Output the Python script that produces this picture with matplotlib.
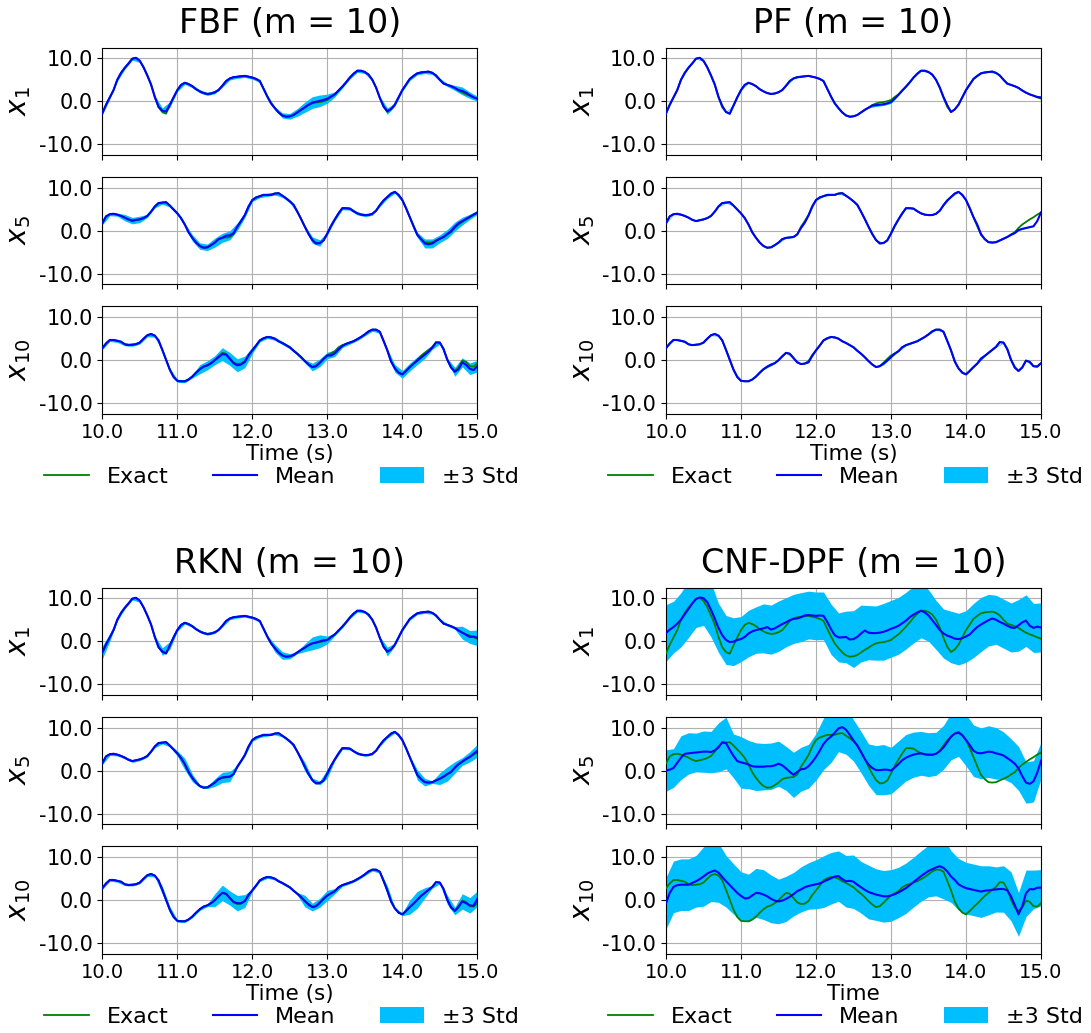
import numpy as np
import matplotlib
matplotlib.use("Agg")
import matplotlib.pyplot as plt
from matplotlib.ticker import FormatStrFormatter

# ---------------- data ----------------
time = np.linspace(10.0, 15.0, 101)      # 0.05 s grid for lines
time_std = time[::2]                     # 0.1 s grid for std bands

x1_exact = [-2.8, -0.8, 0.9, 2.6, 5.0, 6.6, 7.8, 8.8, 9.9, 10.1,
            9.4, 7.9, 6.0, 3.9, 1.0, -1.4, -2.5, -2.9, -1.0, 0.9,
            2.6, 3.8, 4.3, 4.0, 3.5, 2.8, 2.3, 1.9, 1.7, 1.8,
            2.1, 2.6, 3.6, 4.7, 5.3, 5.6, 5.7, 5.8, 5.9, 5.7,
            5.5, 5.2, 4.7, 2.9, 1.1, -0.5, -1.6, -2.6, -3.3, -3.6,
            -3.5, -3.2, -2.6, -2.0, -1.5, -0.9, -0.5, -0.3, -0.2, 0.0,
            0.3, 1.0, 1.6, 2.5, 3.4, 4.4, 5.5, 6.4, 7.1, 7.1,
            6.8, 6.2, 5.0, 3.2, 0.8, -1.3, -2.5, -1.9, -0.8, 0.9,
            2.6, 3.9, 5.2, 5.9, 6.5, 6.7, 6.8, 6.9, 6.6, 6.0,
            5.0, 4.1, 3.8, 3.5, 3.1, 2.5, 2.0, 1.6, 1.3, 0.9,
            0.6]
x5_exact = [1.7, 3.3, 3.8, 3.9, 3.7, 3.4, 3.0, 2.5, 2.2, 2.4,
            2.6, 2.9, 3.4, 4.4, 5.6, 6.4, 6.5, 6.6, 5.8, 4.9,
            4.0, 2.9, 1.4, -0.4, -1.7, -2.8, -3.6, -4.0, -3.9, -3.4,
            -2.8, -2.0, -1.7, -1.6, -1.5, -0.9, 0.9, 2.2, 3.6, 5.6,
            7.1, 7.7, 8.0, 8.3, 8.3, 8.3, 8.6, 8.7, 8.1, 7.5,
            6.8, 6.0, 4.4, 2.7, 0.9, -0.8, -2.2, -3.0, -2.9, -2.3,
            -0.7, 1.1, 2.6, 4.0, 5.2, 5.2, 5.1, 4.5, 4.0, 3.7,
            3.6, 3.6, 3.9, 4.6, 5.9, 7.0, 7.8, 8.6, 9.0, 8.3,
            7.1, 5.2, 3.1, 1.0, -1.0, -2.0, -2.7, -2.8, -2.7, -2.3,
            -1.9, -1.5, -0.9, -0.4, 0.6, 1.4, 2.0, 2.6, 3.1, 3.7,
            4.2]
x10_exact = [2.7, 3.8, 4.6, 4.6, 4.4, 4.2, 3.6, 3.4, 3.5, 3.6,
             4.0, 4.9, 5.7, 6.0, 5.6, 4.5, 2.3, 0.0, -2.3, -4.0,
             -4.9, -5.0, -5.0, -4.6, -3.9, -3.0, -2.2, -1.6, -1.3, -0.8,
             -0.1, 0.8, 1.6, 1.4, 0.4, -0.6, -1.0, -0.9, -0.3, 1.1,
             2.2, 3.3, 4.5, 5.0, 5.3, 5.2, 4.9, 4.3, 3.9, 3.4,
             2.9, 2.1, 1.4, 0.6, -0.3, -1.1, -1.7, -1.5, -0.7, 0.2,
             1.0, 1.5, 2.0, 2.9, 3.4, 3.7, 4.0, 4.3, 4.8, 5.3,
             5.9, 6.6, 7.0, 7.0, 6.5, 4.4, 2.2, -0.4, -2.0, -3.0,
             -3.4, -2.6, -1.7, -0.9, 0.0, 0.9, 1.6, 2.3, 3.0, 4.1,
             4.0, 2.5, 0.0, -1.8, -2.6, -1.8, -0.2, -0.5, -1.5, -1.6,
             -0.8]

# FBF
fbf_x1_mean = [-2.8, -0.8, 0.9, 2.6, 5.0, 6.6, 7.8, 8.8, 9.9, 10.1,
               9.4, 7.9, 6.0, 3.9, 1.0, -1.3, -2.2, -2.4, -0.8, 0.9,
               2.6, 3.8, 4.3, 4.0, 3.5, 2.8, 2.3, 1.9, 1.7, 1.8,
               2.1, 2.6, 3.6, 4.7, 5.3, 5.6, 5.7, 5.8, 5.9, 5.7,
               5.5, 5.2, 4.7, 2.9, 1.1, -0.5, -1.6, -2.6, -3.3, -3.6,
               -3.5, -3.2, -2.6, -2.0, -1.4, -0.8, -0.3, -0.1, 0.1, 0.3,
               0.6, 1.1, 1.6, 2.5, 3.4, 4.4, 5.5, 6.4, 7.1, 7.1,
               6.8, 6.2, 5.0, 3.2, 0.8, -1.2, -2.3, -1.8, -0.8, 0.9,
               2.6, 3.9, 5.2, 5.9, 6.5, 6.7, 6.8, 6.9, 6.6, 6.0,
               5.0, 4.1, 3.8, 3.5, 3.1, 2.6, 2.4, 2.0, 1.4, 0.9,
               0.6]
fbf_x5_mean = [1.7, 3.3, 3.8, 3.9, 3.7, 3.4, 3.0, 2.6, 2.3, 2.5,
               2.6, 2.9, 3.4, 4.4, 5.6, 6.4, 6.5, 6.6, 5.8, 4.9,
               4.0, 2.9, 1.4, -0.4, -1.7, -2.8, -3.6, -4.0, -3.9, -3.4,
               -2.8, -2.0, -1.7, -1.2, -1.1, -0.6, 0.9, 2.2, 3.6, 5.6,
               7.1, 7.7, 8.0, 8.3, 8.3, 8.3, 8.6, 8.7, 8.1, 7.5,
               6.8, 6.0, 4.4, 2.7, 0.9, -0.8, -2.2, -3.0, -2.9, -2.3,
               -0.7, 1.1, 2.6, 4.0, 5.2, 5.2, 5.1, 4.5, 4.0, 3.7,
               3.6, 3.6, 3.9, 4.6, 5.9, 7.0, 7.8, 8.6, 9.0, 8.3,
               7.1, 5.2, 3.1, 1.0, -1.0, -2.0, -3.0, -3.2, -3.0, -2.4,
               -1.9, -1.5, -0.8, -0.1, 0.9, 1.7, 2.2, 2.7, 3.2, 3.7,
               4.2]
fbf_x10_mean = [2.7, 3.8, 4.6, 4.6, 4.4, 4.2, 3.6, 3.4, 3.5, 3.6,
                4.0, 4.9, 5.7, 6.0, 5.6, 4.5, 2.3, 0.0, -2.3, -4.0,
                -4.9, -5.0, -5.0, -4.6, -3.9, -3.0, -2.2, -1.6, -1.3, -0.8,
                -0.1, 0.6, 1.3, 1.2, 0.2, -0.8, -1.3, -1.1, -0.5, 1.0,
                2.2, 3.3, 4.5, 5.0, 5.3, 5.2, 4.9, 4.3, 3.9, 3.4,
                2.9, 2.1, 1.4, 0.6, -0.3, -1.1, -1.7, -1.5, -0.7, 0.2,
                1.0, 1.0, 1.5, 2.4, 3.2, 3.7, 4.0, 4.3, 4.8, 5.3,
                5.9, 6.6, 7.0, 7.0, 6.5, 4.4, 2.2, -0.4, -2.0, -3.0,
                -3.4, -2.6, -1.7, -0.9, -0.2, 0.5, 1.2, 1.9, 2.8, 4.0,
                4.0, 2.5, 0.0, -1.8, -2.8, -2.2, -0.6, -1.2, -2.1, -2.4,
                -1.5]
fbf_x1_std = [0.12, 0.12, 0.12, 0.12, 0.12, 0.12, 0.12, 0.12, 0.22, 0.22,
              0.12, 0.12, 0.12, 0.12, 0.12, 0.12, 0.12, 0.12, 0.12, 0.12,
              0.12, 0.12, 0.12, 0.12, 0.2, 0.22, 0.3, 0.4, 0.45, 0.45,
              0.35, 0.2, 0.12, 0.12, 0.12, 0.12, 0.12, 0.12, 0.25, 0.12,
              0.12, 0.12, 0.12, 0.12, 0.12, 0.12, 0.12, 0.2, 0.3, 0.25,
              0.2]
fbf_x5_std = [0.12, 0.12, 0.12, 0.25, 0.25, 0.25, 0.12, 0.12, 0.12, 0.12,
              0.12, 0.12, 0.25, 0.25, 0.25, 0.35, 0.35, 0.35, 0.3, 0.2,
              0.12, 0.12, 0.12, 0.12, 0.12, 0.12, 0.12, 0.12, 0.25, 0.25,
              0.12, 0.12, 0.12, 0.12, 0.12, 0.12, 0.12, 0.12, 0.12, 0.12,
              0.12, 0.12, 0.2, 0.35, 0.35, 0.3, 0.35, 0.35, 0.3, 0.2,
              0.15]
fbf_x10_std = [0.12, 0.12, 0.12, 0.12, 0.12, 0.12, 0.12, 0.12, 0.12, 0.12,
               0.12, 0.12, 0.12, 0.35, 0.35, 0.35, 0.5, 0.5, 0.5, 0.45,
               0.25, 0.12, 0.12, 0.12, 0.12, 0.12, 0.12, 0.12, 0.3, 0.3,
               0.25, 0.25, 0.12, 0.12, 0.12, 0.12, 0.12, 0.12, 0.12, 0.3,
               0.3, 0.3, 0.3, 0.3, 0.12, 0.12, 0.12, 0.35, 0.35, 0.45,
               0.45]

# PF
pf_x1_mean = [-2.8, -0.8, 0.9, 2.6, 5.0, 6.6, 7.8, 8.8, 9.9, 10.1,
              9.4, 7.9, 6.0, 3.9, 1.0, -1.1, -2.5, -2.9, -1.0, 0.9,
              2.6, 3.8, 4.3, 4.0, 3.5, 2.8, 2.3, 1.9, 1.7, 1.8,
              2.1, 2.6, 3.6, 4.7, 5.3, 5.6, 5.7, 5.8, 5.9, 5.7,
              5.5, 5.2, 4.7, 2.9, 1.1, -0.5, -1.6, -2.6, -3.3, -3.6,
              -3.5, -3.2, -2.6, -2.0, -1.5, -1.0, -0.9, -0.8, -0.7, -0.5,
              -0.2, 0.6, 1.5, 2.5, 3.4, 4.4, 5.5, 6.4, 7.1, 7.1,
              6.8, 6.2, 5.0, 3.2, 1.0, -0.9, -2.5, -1.9, -0.8, 0.9,
              2.6, 3.9, 5.2, 5.9, 6.5, 6.7, 6.8, 6.9, 6.6, 6.0,
              5.0, 4.1, 3.8, 3.5, 3.1, 2.5, 2.0, 1.6, 1.3, 1.0,
              0.9]
pf_x5_mean = [1.7, 3.3, 3.8, 3.9, 3.7, 3.4, 3.0, 2.5, 2.2, 2.4,
              2.6, 2.9, 3.4, 4.4, 5.6, 6.4, 6.5, 6.6, 5.8, 4.9,
              4.0, 2.9, 1.4, -0.4, -1.7, -2.8, -3.6, -4.0, -3.9, -3.4,
              -2.8, -2.0, -1.7, -1.6, -1.5, -0.9, 0.6, 1.8, 3.5, 5.6,
              7.1, 7.7, 8.0, 8.3, 8.3, 8.3, 8.6, 8.7, 8.1, 7.5,
              6.8, 6.0, 4.4, 2.7, 0.9, -0.8, -2.2, -3.0, -2.9, -2.3,
              -0.7, 1.1, 2.6, 4.0, 5.2, 5.2, 5.1, 4.5, 4.0, 3.7,
              3.6, 3.6, 3.9, 4.6, 5.9, 7.0, 7.8, 8.6, 9.0, 8.3,
              7.1, 5.2, 3.1, 1.4, -0.8, -2.0, -2.7, -2.8, -2.7, -2.3,
              -1.9, -1.5, -1.0, -0.6, 0.1, 0.4, 0.6, 0.8, 1.0, 2.2,
              4.2]
pf_x10_mean = [2.7, 3.8, 4.6, 4.6, 4.4, 4.2, 3.6, 3.4, 3.5, 3.6,
               4.0, 4.9, 5.7, 6.0, 5.6, 4.5, 2.3, 0.0, -2.3, -4.0,
               -4.9, -5.0, -5.0, -4.6, -3.9, -3.0, -2.2, -1.6, -1.1, -0.8,
               -0.1, 0.8, 1.6, 1.4, 0.4, -0.6, -1.0, -0.9, -0.6, 0.9,
               2.2, 3.3, 4.5, 5.0, 5.3, 5.2, 4.9, 4.3, 3.9, 3.4,
               2.9, 2.1, 1.4, 0.6, -0.3, -1.1, -1.7, -1.5, -0.9, -0.2,
               0.6, 1.4, 2.0, 2.9, 3.4, 3.7, 4.0, 4.3, 4.8, 5.3,
               5.9, 6.6, 7.0, 7.0, 6.5, 4.4, 2.2, -0.4, -2.0, -3.0,
               -3.4, -2.6, -1.7, -0.9, 0.3, 0.9, 1.6, 2.3, 3.0, 4.1,
               4.0, 2.5, 0.0, -1.8, -2.6, -1.8, -0.2, -0.5, -1.5, -1.6,
               -0.8]
pf_x1_std = [0.03, 0.03, 0.03, 0.03, 0.03, 0.03, 0.03, 0.03, 0.03, 0.03,
             0.03, 0.03, 0.03, 0.03, 0.03, 0.03, 0.03, 0.03, 0.03, 0.03,
             0.03, 0.03, 0.03, 0.03, 0.03, 0.03, 0.03, 0.03, 0.1, 0.1,
             0.1, 0.03, 0.03, 0.03, 0.03, 0.03, 0.03, 0.03, 0.03, 0.03,
             0.03, 0.03, 0.03, 0.03, 0.03, 0.03, 0.03, 0.03, 0.03, 0.03,
             0.03]
pf_x5_std = [0.03, 0.03, 0.03, 0.03, 0.03, 0.03, 0.03, 0.03, 0.03, 0.03,
             0.03, 0.03, 0.03, 0.03, 0.03, 0.03, 0.03, 0.03, 0.03, 0.03,
             0.03, 0.03, 0.03, 0.03, 0.03, 0.03, 0.03, 0.03, 0.03, 0.03,
             0.03, 0.03, 0.03, 0.03, 0.03, 0.03, 0.03, 0.03, 0.03, 0.03,
             0.03, 0.03, 0.03, 0.03, 0.03, 0.03, 0.03, 0.03, 0.03, 0.03,
             0.03]
pf_x10_std = [0.03, 0.03, 0.03, 0.03, 0.03, 0.03, 0.03, 0.03, 0.03, 0.03,
              0.03, 0.03, 0.03, 0.03, 0.1, 0.03, 0.03, 0.03, 0.03, 0.03,
              0.03, 0.03, 0.03, 0.03, 0.03, 0.03, 0.03, 0.03, 0.03, 0.1,
              0.03, 0.03, 0.03, 0.03, 0.03, 0.03, 0.03, 0.03, 0.03, 0.03,
              0.03, 0.03, 0.1, 0.03, 0.03, 0.03, 0.03, 0.03, 0.03, 0.03,
              0.03]

# RKN
rkn_x1_mean = [-2.6, -0.7, 0.9, 2.6, 5.0, 6.6, 7.8, 8.8, 9.9, 10.1,
               9.4, 7.9, 6.0, 3.9, 1.0, -1.4, -2.4, -2.8, -1.0, 0.9,
               2.6, 3.8, 4.3, 4.0, 3.5, 2.8, 2.3, 1.9, 1.7, 1.8,
               2.1, 2.6, 3.6, 4.7, 5.3, 5.6, 5.7, 5.8, 5.9, 5.7,
               5.5, 5.2, 4.7, 2.9, 1.1, -0.5, -1.6, -2.6, -3.3, -3.6,
               -3.5, -3.2, -2.6, -2.0, -1.5, -0.9, -0.5, -0.3, 0.0, 0.2,
               0.3, 1.0, 1.6, 2.5, 3.4, 4.4, 5.5, 6.4, 7.1, 7.1,
               6.8, 6.2, 5.0, 3.2, 0.8, -1.3, -2.4, -1.9, -0.8, 0.9,
               2.6, 3.9, 5.2, 5.9, 6.5, 6.7, 6.8, 6.9, 6.6, 6.0,
               5.0, 4.1, 3.8, 3.5, 3.1, 2.5, 2.0, 1.5, 1.0, 1.1,
               0.8]
rkn_x5_mean = [1.7, 3.3, 3.8, 3.9, 3.7, 3.4, 3.0, 2.5, 2.2, 2.4,
               2.6, 2.9, 3.4, 4.4, 5.6, 6.4, 6.5, 6.6, 5.8, 4.9,
               4.0, 2.9, 1.5, -0.3, -1.7, -2.8, -3.6, -4.0, -3.9, -3.4,
               -2.8, -2.0, -1.6, -1.5, -1.4, -0.8, 0.9, 2.2, 3.6, 5.6,
               7.1, 7.7, 8.0, 8.3, 8.3, 8.3, 8.6, 8.7, 8.1, 7.5,
               6.8, 6.0, 4.4, 2.7, 0.9, -0.8, -2.2, -3.0, -2.9, -2.3,
               -0.7, 1.1, 2.6, 4.0, 5.2, 5.2, 5.1, 4.5, 4.0, 3.7,
               3.6, 3.6, 3.9, 4.6, 5.9, 7.0, 7.8, 8.6, 9.0, 8.3,
               7.1, 5.2, 3.1, 1.0, -1.0, -2.0, -2.7, -2.8, -2.7, -2.3,
               -1.9, -1.4, -0.8, -0.3, 0.7, 1.5, 2.1, 2.7, 3.2, 3.9,
               4.6]
rkn_x10_mean = [2.7, 3.8, 4.6, 4.6, 4.4, 4.2, 3.6, 3.4, 3.5, 3.6,
                4.0, 4.9, 5.7, 6.0, 5.6, 4.5, 2.3, 0.0, -2.3, -4.0,
                -4.9, -5.0, -5.0, -4.6, -3.9, -3.0, -2.2, -1.6, -1.3, -0.8,
                -0.1, 0.8, 1.6, 1.4, 0.4, -0.5, -0.8, -0.8, -0.3, 1.1,
                2.2, 3.3, 4.5, 5.0, 5.3, 5.2, 4.9, 4.3, 3.9, 3.4,
                2.9, 2.1, 1.4, 0.6, -0.3, -1.1, -1.7, -1.5, -0.7, 0.2,
                1.0, 1.5, 2.0, 2.9, 3.4, 3.7, 4.0, 4.3, 4.8, 5.3,
                5.9, 6.6, 7.0, 7.0, 6.5, 4.4, 2.2, -0.4, -2.0, -3.0,
                -3.4, -2.6, -1.7, -0.9, 0.0, 0.9, 1.6, 2.3, 3.0, 4.1,
                4.0, 2.5, 0.0, -1.8, -2.6, -1.6, -0.4, -0.8, -1.3, -1.4,
                0.2]
rkn_x1_std = [0.5, 0.3, 0.1, 0.1, 0.1, 0.1, 0.1, 0.1, 0.3, 0.3,
              0.1, 0.1, 0.1, 0.1, 0.1, 0.1, 0.1, 0.1, 0.1, 0.1,
              0.1, 0.1, 0.1, 0.3, 0.3, 0.2, 0.1, 0.3, 0.5, 0.5,
              0.3, 0.1, 0.1, 0.1, 0.1, 0.1, 0.1, 0.1, 0.35, 0.1,
              0.1, 0.1, 0.1, 0.1, 0.1, 0.1, 0.1, 0.1, 0.5, 0.5,
              0.6]
rkn_x5_std = [0.1, 0.1, 0.1, 0.1, 0.1, 0.1, 0.1, 0.1, 0.1, 0.1,
              0.2, 0.45, 0.3, 0.1, 0.1, 0.3, 0.4, 0.4, 0.1, 0.1,
              0.1, 0.1, 0.1, 0.1, 0.1, 0.1, 0.1, 0.35, 0.15, 0.15,
              0.35, 0.1, 0.1, 0.1, 0.1, 0.1, 0.1, 0.1, 0.1, 0.1,
              0.1, 0.1, 0.4, 0.3, 0.1, 0.45, 0.55, 0.45, 0.3, 0.4,
              0.5]
rkn_x10_std = [0.1, 0.1, 0.1, 0.1, 0.1, 0.1, 0.1, 0.1, 0.3, 0.25,
               0.1, 0.1, 0.1, 0.1, 0.1, 0.5, 0.6, 0.55, 0.6, 0.5,
               0.1, 0.1, 0.1, 0.1, 0.1, 0.1, 0.1, 0.45, 0.3, 0.35,
               0.4, 0.2, 0.1, 0.1, 0.1, 0.1, 0.1, 0.1, 0.35, 0.1,
               0.1, 0.55, 0.65, 0.4, 0.1, 0.1, 0.35, 0.3, 0.6, 0.6,
               0.6]

# CNF-DPF
cnf_x1_mean = [1.9, 2.7, 3.3, 4.1, 5.0, 6.3, 7.5, 8.8, 9.8, 10.2,
               10.0, 9.1, 7.3, 5.3, 3.1, 1.4, 0.3, -0.2, -0.1, 0.3,
               0.5, 1.0, 1.8, 2.3, 2.6, 2.8, 3.0, 3.3, 2.7, 3.0,
               3.5, 4.0, 4.4, 4.9, 5.2, 5.3, 5.6, 6.0, 6.1, 6.0,
               5.9, 6.0, 5.9, 4.5, 2.8, 1.4, 0.9, 0.9, 1.0, 0.4,
               0.5, 1.0, 1.8, 2.5, 2.0, 1.9, 1.9, 2.0, 2.2, 2.5,
               2.9, 3.2, 3.6, 4.2, 4.8, 5.6, 6.2, 6.7, 7.1, 6.7,
               6.0, 4.9, 3.8, 2.6, 1.8, 1.3, 1.0, 0.6, 0.5, 0.7,
               1.1, 1.6, 2.5, 3.3, 3.9, 4.4, 4.9, 5.3, 5.0, 4.5,
               4.1, 3.6, 3.2, 3.1, 3.7, 4.4, 4.8, 3.6, 3.1, 3.4,
               3.2]
cnf_x5_mean = [0.0, 0.2, 0.6, 1.8, 3.0, 3.9, 4.0, 4.1, 4.2, 4.3,
               4.4, 4.4, 4.3, 4.7, 5.4, 6.6, 6.4, 4.8, 3.4, 2.2,
               1.9, 1.7, 1.4, 1.0, 0.9, 0.9, 0.9, 1.0, 1.0, 1.2,
               1.6, 1.2, 0.5, -0.3, -1.0, -0.3, 0.3, 0.4, 1.0, 2.0,
               3.2, 4.6, 6.2, 7.2, 7.9, 8.8, 9.8, 10.1, 9.5, 8.3,
               7.0, 5.8, 4.3, 2.7, 1.4, 0.6, 0.1, 0.1, 0.2, 0.2,
               0.0, 0.7, 1.5, 2.4, 3.0, 3.4, 3.7, 3.9, 4.0, 3.8,
               3.7, 3.7, 3.9, 4.5, 5.4, 6.6, 7.9, 8.6, 8.8, 8.2,
               7.1, 5.9, 4.6, 4.1, 4.0, 4.2, 4.4, 4.3, 4.0, 3.8,
               3.5, 2.9, 2.3, 1.6, 0.5, -1.3, -2.8, -3.1, -2.5, -0.5,
               2.3]
cnf_x10_mean = [-0.8, 1.6, 3.0, 3.4, 3.5, 3.5, 3.5, 3.9, 4.3, 4.8,
                5.4, 6.1, 6.5, 6.8, 6.3, 5.3, 4.3, 3.4, 2.5, 1.6,
                0.9, 0.3, 0.4, 1.0, 1.6, 1.5, 1.2, 0.8, 0.2, -0.2,
                -0.4, -0.2, 0.2, 0.7, 1.3, 2.0, 2.4, 2.9, 3.2, 3.4,
                3.6, 3.8, 4.2, 4.6, 5.0, 5.4, 5.5, 4.8, 4.3, 4.4,
                4.2, 3.5, 2.9, 2.3, 1.8, 1.5, 1.2, 1.0, 0.8, 0.8,
                1.0, 1.3, 1.7, 2.2, 2.7, 3.4, 4.1, 4.8, 5.5, 6.1,
                6.7, 7.1, 7.5, 7.8, 7.4, 6.6, 5.4, 4.6, 3.6, 3.1,
                2.7, 2.5, 2.3, 2.1, 1.9, 2.1, 2.2, 2.3, 2.4, 2.5,
                2.5, 2.2, 0.8, -1.2, -3.4, -1.5, 1.5, 2.5, 2.4, 2.8,
                2.8]
cnf_x1_std = [2.2, 2.0, 2.1, 2.2, 2.2, 2.1, 2.1, 1.9, 1.9, 1.85,
              1.75, 1.8, 1.8, 1.9, 1.9, 1.95, 1.9, 1.9, 1.9, 1.85,
              1.85, 1.85, 1.95, 1.9, 2.0, 2.2, 2.2, 2.1, 2.1, 2.2,
              2.2, 2.2, 2.2, 2.2, 2.1, 2.0, 1.9, 1.9, 2.0, 2.0,
              2.0, 2.1, 2.1, 2.0, 1.9, 1.9, 1.9, 2.0, 2.0, 1.9,
              1.9]
cnf_x5_std = [1.6, 1.5, 1.7, 1.6, 1.5, 1.6, 1.6, 1.9, 2.0, 1.7,
              2.0, 1.87, 1.85, 1.8, 1.8, 1.75, 1.7, 1.75, 1.7, 1.7,
              1.8, 2.0, 2.0, 1.8, 1.9, 1.6, 1.6, 1.6, 1.9, 1.95,
              1.8, 1.8, 1.8, 1.75, 1.7, 1.7, 1.67, 1.7, 1.8, 1.83,
              2.0, 2.0, 1.97, 2.0, 2.0, 1.83, 1.7, 1.7, 1.6, 1.6,
              1.4]
cnf_x10_std = [2.0, 2.0, 2.0, 2.0, 2.0, 2.3, 2.3, 2.3, 2.0, 1.95,
               1.87, 1.85, 1.9, 1.93, 1.85, 1.73, 1.75, 1.68, 1.75, 1.8,
               1.9, 2.0, 2.0, 1.95, 2.0, 2.07, 2.0, 2.08, 2.0, 2.0,
               2.0, 1.95, 1.95, 1.93, 1.95, 2.0, 2.2, 2.4, 2.0, 2.0,
               2.0, 2.0, 2.0, 1.9, 1.75, 1.8, 1.9, 1.7, 1.8, 1.5,
               1.4]

methods = ["FBF", "PF", "RKN", "CNF-DPF"]
state_names = ["$x_1$", "$x_5$", "$x_{10}$"]
x_labels = ["Time (s)", "Time (s)", "Time (s)", "Time"]
xtick_vals = [10.0, 11.0, 12.0, 13.0, 14.0, 15.0]
ytick_vals = [-10.0, 0.0, 10.0]

exacts = [x1_exact, x5_exact, x10_exact]
means = {
    "FBF": [fbf_x1_mean, fbf_x5_mean, fbf_x10_mean],
    "PF": [pf_x1_mean, pf_x5_mean, pf_x10_mean],
    "RKN": [rkn_x1_mean, rkn_x5_mean, rkn_x10_mean],
    "CNF-DPF": [cnf_x1_mean, cnf_x5_mean, cnf_x10_mean],
}
stds = {
    "FBF": [fbf_x1_std, fbf_x5_std, fbf_x10_std],
    "PF": [pf_x1_std, pf_x5_std, pf_x10_std],
    "RKN": [rkn_x1_std, rkn_x5_std, rkn_x10_std],
    "CNF-DPF": [cnf_x1_std, cnf_x5_std, cnf_x10_std],
}

# ---------------- layout (pixels) ----------------
W, H = 1091, 1033
fig = plt.figure(figsize=(W / 100, H / 100), dpi=100)

col_left = [102.3, 666.0]
row_off = [0.0, 540.0]
ax_w = 375.0
ax_h = 107.5
ax_tops = [47.5, 176.8, 306.0]

STD_COLOR = "#00bfff"

for p, method in enumerate(methods):
    col = p % 2
    row = p // 2
    left = col_left[col]
    off = row_off[row]
    for k in range(3):
        top = ax_tops[k] + off
        ax = fig.add_axes([left / W, 1 - (top + ax_h) / H, ax_w / W, ax_h / H])
        m = np.asarray(means[method][k])
        s = np.asarray(stds[method][k])
        band = ax.fill_between(time_std, m[::2] - 3 * s, m[::2] + 3 * s,
                               color=STD_COLOR, lw=0, label="±3 Std", zorder=2)
        l_ex, = ax.plot(time, exacts[k], color="green", lw=1.3, label="Exact", zorder=3)
        l_mn, = ax.plot(time, m, color="blue", lw=1.5, label="Mean", zorder=4)
        ax.set_xlim(10.0, 15.0)
        ax.set_ylim(-12.5, 12.5)
        ax.set_xticks(xtick_vals)
        ax.set_yticks(ytick_vals)
        ax.yaxis.set_major_formatter(FormatStrFormatter("%.1f"))
        ax.xaxis.set_major_formatter(FormatStrFormatter("%.1f"))
        ax.tick_params(axis="y", labelsize=15)
        ax.tick_params(axis="x", labelsize=14)
        ax.grid(True, color="#b0b0b0", lw=0.8)
        ax.set_axisbelow(True)
        ax.set_ylabel(state_names[k], fontsize=20)
        if k < 2:
            ax.tick_params(axis="x", labelbottom=False)
        else:
            ax.set_xlabel(x_labels[p], fontsize=15.5, labelpad=1)
    cx = left + ax_w / 2
    fig.text(cx / W, 1 - (33 + off) / H, f"{method} (m = 10)", ha="center",
             va="baseline", fontsize=24)
    fig.legend([l_ex, l_mn, band], ["Exact", "Mean", "±3 Std"],
               loc="center", bbox_to_anchor=((cx - 8) / W, 1 - (477 + off) / H),
               ncol=3, frameon=False, fontsize=16)

fig.savefig("out.png", dpi=100)
